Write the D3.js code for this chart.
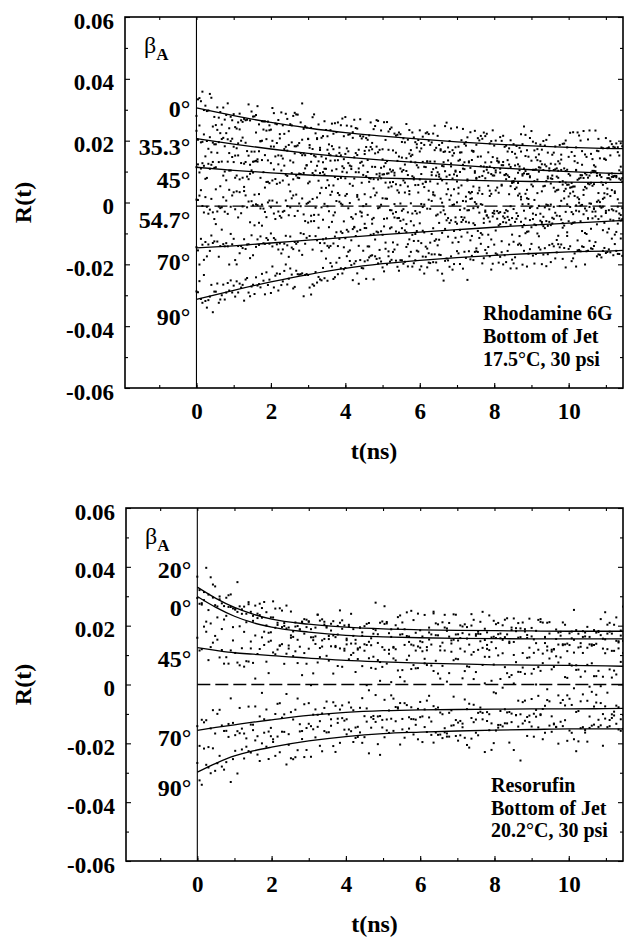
<!DOCTYPE html>
<html><head><meta charset="utf-8">
<script src="https://cdn.jsdelivr.net/npm/d3@7"></script>
<style>
body{margin:0;background:#fff}
svg{display:block}
text{font-family:"Liberation Serif","Times New Roman",serif;font-weight:bold;fill:#000}
</style>
</head><body>
<svg id="chart" width="624" height="941"></svg>
<script>
// ---------- data ----------
const xTickValues = [0, 2, 4, 6, 8, 10];
const xTickLabels = ["0", "2", "4", "6", "8", "10"];
const yTickValues = [-0.06, -0.04, -0.02, 0, 0.02, 0.04, 0.06];
const yTickLabels = ["-0.06", "-0.04", "-0.02", "0", "0.02", "0.04", "0.06"];
const xMinorTicks = [-1, 0, 1, 2, 3, 4, 5, 6, 7, 8, 9, 10, 11];
const yMinorTicks = [-0.05, -0.03, -0.01, 0.01, 0.03, 0.05];

// Top panel: Rhodamine 6G
const topTimes = [0, 1, 2, 3, 4, 5, 6, 7, 8, 9, 10, 11, 11.5];
const top0    = [0.0306, 0.0281, 0.0259, 0.0241, 0.0226, 0.0215, 0.0205, 0.0196, 0.0189, 0.0183, 0.0178, 0.0175, 0.0174];
const top353  = [0.0207, 0.0189, 0.0173, 0.0159, 0.0147, 0.0137, 0.0129, 0.0121, 0.0113, 0.0106, 0.0100, 0.0095, 0.0093];
const top45   = [0.0114, 0.0104, 0.0096, 0.0089, 0.0084, 0.0079, 0.0076, 0.0073, 0.0070, 0.0068, 0.0066, 0.0065, 0.0065];
const top547  = [-0.0012, -0.0012, -0.0012, -0.0012, -0.0012, -0.0012, -0.0012, -0.0012, -0.0012, -0.0012, -0.0012, -0.0012, -0.0012];
const top70   = [-0.0147, -0.0140, -0.0131, -0.0122, -0.0113, -0.0104, -0.0096, -0.0088, -0.0080, -0.0073, -0.0067, -0.0061, -0.0058];
const top90   = [-0.0313, -0.0284, -0.0257, -0.0233, -0.0213, -0.0198, -0.0187, -0.0178, -0.0171, -0.0165, -0.0160, -0.0157, -0.0155];
const topAngleLabels = ["0°", "35.3°", "45°", "54.7°", "70°", "90°"];
const topAngleLabelR = [0.0305, 0.0182, 0.0073, -0.0056, -0.0192, -0.0369];
const topNote = ["Rhodamine 6G", "Bottom of Jet", "17.5°C, 30 psi"];

// Bottom panel: Resorufin
const botTimes = [0, 0.5, 1, 1.5, 2, 3, 4, 5, 6, 7, 8, 9, 10, 11, 11.5];
const bot20 = [0.0331, 0.0293, 0.0262, 0.0239, 0.0222, 0.0205, 0.0195, 0.0189, 0.0186, 0.0184, 0.0183, 0.0182, 0.0181, 0.0181, 0.0181];
const bot0  = [0.0299, 0.0262, 0.0232, 0.0210, 0.0195, 0.0178, 0.0167, 0.0162, 0.0159, 0.0157, 0.0156, 0.0155, 0.0155, 0.0155, 0.0155];
const bot45 = [0.0125, 0.0116, 0.0108, 0.0103, 0.0098, 0.0090, 0.0082, 0.0077, 0.0073, 0.0070, 0.0067, 0.0066, 0.0065, 0.0063, 0.0062];
const botRef = [0, 0, 0, 0, 0, 0, 0, 0, 0, 0, 0, 0, 0, 0, 0];
const bot70 = [-0.0156, -0.0146, -0.0137, -0.0128, -0.0120, -0.0105, -0.0095, -0.0089, -0.0086, -0.0085, -0.0084, -0.0083, -0.0083, -0.0082, -0.0081];
const bot90 = [-0.0298, -0.0268, -0.0243, -0.0226, -0.0213, -0.0192, -0.0177, -0.0167, -0.0162, -0.0158, -0.0155, -0.0153, -0.0151, -0.0151, -0.0151];
const botAngleLabels = ["20°", "0°", "45°", "70°", "90°"];
const botAngleLabelR = [0.0389, 0.0263, 0.0089, -0.0179, -0.0352];
const botNote = ["Resorufin", "Bottom of Jet", "20.2°C, 30 psi"];

// measured residual scatter (units of noise width), read as a fixed table
const residuals = [0.32,-1.14,0.87,-0.45,1.62,-0.08,-1.73,0.55,1.05,-0.66,0.19,-2.05,1.38,-0.27,0.74,-0.93,
  2.11,-0.51,0.03,-1.36,0.96,0.41,-0.79,1.21,-1.58,0.12,0.68,-0.35,1.84,-1.02,-0.17,0.59,
  -2.31,1.47,0.26,-0.71,0.91,-1.19,0.08,1.66,-0.43,-0.88,1.29,-1.51,0.37,0.77,-0.22,-1.95,
  1.09,0.49,-0.62,1.93,-0.13,-1.27,0.64,0.22,-0.99,1.41,-0.56,-1.68,0.83,0.15,-0.31,2.25,
  -1.08,0.53,-0.74,1.17,-1.42,0.04,0.95,-0.48,1.56,-1.87,0.29,-0.11,0.71,-1.31,1.99,-0.39,
  -0.84,1.02,0.44,-1.61,0.18,1.33,-0.69,-0.25,1.74,-1.12,0.58,-2.12,0.88,0.33,-0.53,1.23,
  -0.94,-0.06,1.51,-1.46,0.67,-0.28,-1.79,1.12,0.47,-0.81,0.24,1.88,-1.23,-0.41,0.79,-0.15,
  1.36,-1.05,0.61,-1.55,2.02,-0.64,0.11,-0.97,1.27,0.39,-1.37,0.86,-0.19,-0.6,1.45];

// ---------- layout ----------
const svg = d3.select("#chart");
const panels = [
  { times: topTimes, series: [top0, top353, top45, top547, top70, top90], dashed: [false,false,false,true,false,false],
    dots: [true,true,true,true,true,true], step: 0.04, spread: 0.0027,
    labels: topAngleLabels, labelR: topAngleLabelR, note: topNote,
    left: 125, right: 623, top: 17, bottom: 388, noteX: 483, noteY: 320, noteDy: 23, titleY: 459 },
  { times: botTimes, series: [bot20, bot0, bot45, botRef, bot70, bot90], dashed: [false,false,false,true,false,false],
    dots: [true,true,true,false,true,true], step: 0.06, spread: 0.0034,
    labels: botAngleLabels, labelR: botAngleLabelR, note: botNote,
    left: 126, right: 623, top: 508, bottom: 861, noteX: 491, noteY: 792, noteDy: 22.5, titleY: 932 }
];

function interp(times, vals, t) {
  for (let i = 1; i < times.length; i++) {
    if (t <= times[i]) {
      const f = (t - times[i-1]) / (times[i] - times[i-1]);
      return vals[i-1] + f * (vals[i] - vals[i-1]);
    }
  }
  return vals[vals.length - 1];
}

panels.forEach((p, pi) => {
  const x = d3.scaleLinear().domain([-1.92, 11.46]).range([p.left, p.right]);
  const y = d3.scaleLinear().domain([-0.06, 0.06]).range([p.bottom, p.top]);
  const g = svg.append("g");
  const clipId = "clip" + pi;
  svg.append("clipPath").attr("id", clipId).append("rect")
    .attr("x", p.left).attr("y", p.top).attr("width", p.right - p.left).attr("height", p.bottom - p.top);

  // scatter dots
  const dotsG = g.append("g").attr("clip-path", `url(#${clipId})`);
  const L = residuals.length;
  p.series.forEach((vals, k) => {
    if (!p.dots[k]) return;
    const pts = [];
    const n = Math.floor(11.46 / p.step);
    for (let i = 0; i <= n; i++) {
      const t = i * p.step;
      const a = (i * 7 + k * 31 + pi * 5) % L;
      const b = (i * 11 + Math.floor(i / L) * 37 + k * 17 + 59 + pi * 13) % L;
      const r = (residuals[a] + residuals[b]) * 0.7071;
      pts.push({ t: t, v: interp(p.times, vals, t) + r * p.spread });
    }
    dotsG.selectAll(null).data(pts).enter().append("rect")
      .attr("x", d => x(d.t) - 1).attr("y", d => y(d.v) - 1)
      .attr("width", 2).attr("height", 2).attr("fill", "#000");
  });

  // fit curves
  const line = d3.line().x(d => x(d[0])).y(d => y(d[1])).curve(d3.curveMonotoneX);
  const curvesG = g.append("g").attr("clip-path", `url(#${clipId})`);
  p.series.forEach((vals, k) => {
    curvesG.append("path").datum(p.times.map((t, i) => [t, vals[i]]))
      .attr("d", line).attr("fill", "none").attr("stroke", "#000")
      .attr("stroke-width", 1.3)
      .attr("stroke-dasharray", p.dashed[k] ? "13,5" : null);
  });

  // t = 0 line
  g.append("line").attr("x1", x(0)).attr("x2", x(0)).attr("y1", p.top).attr("y2", p.bottom)
    .attr("stroke", "#000").attr("stroke-width", 1.1);

  // axes (ticks inward)
  const tickFont = a => a.selectAll("text").style("font-size", "23px").style("font-family", '"Liberation Serif","Times New Roman",serif').style("font-weight", "bold");
  const styleAxis = a => { a.select(".domain").remove(); a.selectAll("line").attr("stroke", "#000").attr("stroke-width", 1.1); };

  const yAxis = g.append("g").attr("transform", `translate(${p.left},0)`)
    .call(d3.axisLeft(y).tickValues(yTickValues).tickFormat((d, i) => yTickLabels[i]).tickSizeInner(-5).tickSizeOuter(0).tickPadding(11));
  styleAxis(yAxis); tickFont(yAxis); yAxis.selectAll("text").attr("dy", "0.48em");
  const yMinor = g.append("g").attr("transform", `translate(${p.left},0)`)
    .call(d3.axisLeft(y).tickValues(yMinorTicks).tickFormat("").tickSizeInner(-3).tickSizeOuter(0));
  styleAxis(yMinor);
  const yRight = g.append("g").attr("transform", `translate(${p.right},0)`)
    .call(d3.axisRight(y).tickValues(yTickValues).tickFormat("").tickSizeInner(-5).tickSizeOuter(0));
  styleAxis(yRight);
  const yRightMinor = g.append("g").attr("transform", `translate(${p.right},0)`)
    .call(d3.axisRight(y).tickValues(yMinorTicks).tickFormat("").tickSizeInner(-3).tickSizeOuter(0));
  styleAxis(yRightMinor);

  const xAxis = g.append("g").attr("transform", `translate(0,${p.bottom})`)
    .call(d3.axisBottom(x).tickValues(xTickValues).tickFormat((d, i) => xTickLabels[i]).tickSizeInner(-5).tickSizeOuter(0).tickPadding(15));
  styleAxis(xAxis); tickFont(xAxis);
  const xMinor = g.append("g").attr("transform", `translate(0,${p.bottom})`)
    .call(d3.axisBottom(x).tickValues(xMinorTicks).tickFormat("").tickSizeInner(-3).tickSizeOuter(0));
  styleAxis(xMinor);
  const xTop = g.append("g").attr("transform", `translate(0,${p.top})`)
    .call(d3.axisTop(x).tickValues(xMinorTicks).tickFormat("").tickSizeInner(-3).tickSizeOuter(0));
  styleAxis(xTop);

  // frame
  g.append("rect").attr("x", p.left).attr("y", p.top).attr("width", p.right - p.left).attr("height", p.bottom - p.top)
    .attr("fill", "none").attr("stroke", "#000").attr("stroke-width", 1.6);

  // beta_A label
  const beta = g.append("text").attr("x", p.left + 19).attr("y", p.top + 36);
  beta.append("tspan").text("β").style("font-weight", "normal").style("font-size", "24px");
  beta.append("tspan").text("A").attr("dy", 7).style("font-size", "17px");

  // angle labels
  g.selectAll(null).data(p.labels).enter().append("text")
    .attr("x", x(0) - 6).attr("y", (d, i) => y(p.labelR[i])).attr("dy", "0.35em")
    .attr("text-anchor", "end").style("font-size", "24px").text(d => d);

  // note
  g.selectAll(null).data(p.note).enter().append("text")
    .attr("x", p.noteX).attr("y", (d, i) => p.noteY + i * p.noteDy)
    .style("font-size", "20px").text(d => d);

  // axis titles
  g.append("text").attr("x", (p.left + p.right) / 2).attr("y", p.titleY)
    .attr("text-anchor", "middle").style("font-size", "24px").text("t(ns)");
  g.append("text").attr("transform", `translate(31,${y(0)}) rotate(-90)`)
    .attr("text-anchor", "middle").style("font-size", "24px").text("R(t)");
});
</script>
</body></html>
